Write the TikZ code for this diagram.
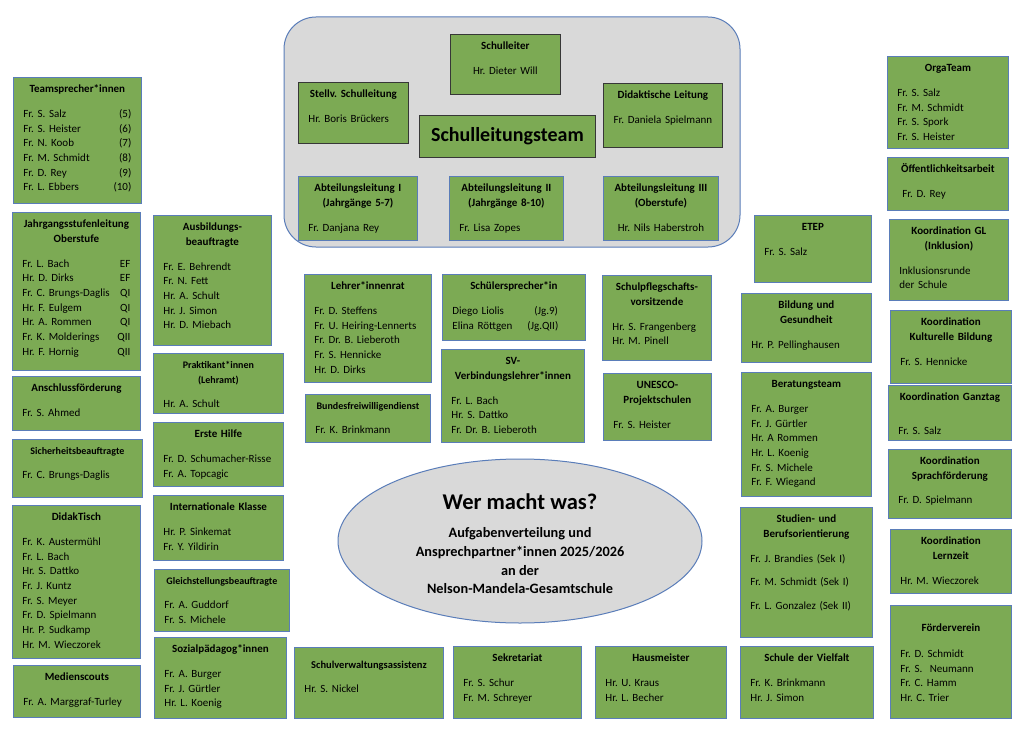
\documentclass[tikz,border=0pt]{standalone}
\usepackage{fontspec}
\setmainfont{Carlito}
\usetikzlibrary{shapes.geometric}
\frenchspacing

\definecolor{boxgreen}{RGB}{124,170,84}
\definecolor{boxblue}{RGB}{90,125,185}
\definecolor{boxdark}{RGB}{55,55,55}
\definecolor{panelgray}{RGB}{217,217,217}

\newcommand\hd[1]{\makebox[\linewidth]{\strut\bfseries #1}}
\newcommand\hds[1]{\makebox[\linewidth]{\strut\fontsize{10}{14}\selectfont\bfseries #1}}
\newcommand\ct[1]{\makebox[\linewidth]{#1}}
% [text options]{style}{name}{x,y}{width}{height}{content}
\newcommand\orgbox[7][]{%
  \pgfmathsetmacro\boxtw{#5-20}%
  \node[#2, minimum width=#5pt, minimum height=#6pt] (#3) at (#4) {};
  \node[boxtext, text width=\boxtw pt, #1] (#3-t) at (#3.north) {#7};
}

\begin{document}
\begin{tikzpicture}[
    x=1pt, y=-1pt,
    line cap=round,
    gbox/.style={draw=boxblue, fill=boxgreen, line width=0.8pt,
      anchor=north west, inner sep=0pt},
    dbox/.style={gbox, draw=boxdark},
    boxtext/.style={anchor=north, inner xsep=10pt, inner ysep=5.3pt,
      align=left, font=\fontsize{11}{14.7}\selectfont}
]
  \path[fill=white] (0,0) rectangle (1024,730);

  % Schulleitungsteam
  \draw[draw=boxblue, fill=panelgray, line width=1pt, rounded corners=32pt]
    (284,17) rectangle (740,247);
  \orgbox{dbox}{sl}{450,34}{110}{60}{\hd{Schulleiter}\\[10pt]\ct{Hr. Dieter Will}}
  \orgbox{dbox}{stv}{298,82}{110}{61}{\hd{Stellv. Schulleitung}\\[10pt]Hr. Boris Brückers}
  \node[dbox, minimum width=176pt, minimum height=42pt,
    font=\fontsize{20}{24}\selectfont\bfseries] (slt) at (419,115) {Schulleitungsteam};
  \orgbox{dbox}{dl}{603,83}{119}{64}{\hd{Didaktische Leitung}\\[10pt]\ct{Fr. Daniela Spielmann}}
  \orgbox{gbox}{al1}{298,176}{119}{64}{\hd{Abteilungsleitung I}\\ \hd{(Jahrgänge 5-7)}\\[10pt]Fr. Danjana Rey}
  \orgbox{gbox}{al2}{449,176}{114}{64}{\hd{Abteilungsleitung II}\\ \hd{(Jahrgänge 8-10)}\\[10pt]Fr. Lisa Zopes}
  \orgbox{gbox}{al3}{603,176}{115}{64}{\hd{Abteilungsleitung III}\\ \hd{(Oberstufe)}\\[10pt]\ct{Hr. Nils Haberstroh}}

  % left columns
  \orgbox{gbox}{ts}{13,77}{128}{126}{\hd{Teamsprecher*innen}\\[10pt]
    Fr. S. Salz\hfill(5)\\ Fr. S. Heister\hfill(6)\\ Fr. N. Koob\hfill(7)\\
    Fr. M. Schmidt\hfill(8)\\ Fr. D. Rey\hfill(9)\\ Fr. L. Ebbers\hfill(10)\hspace*{4pt}}
  \orgbox{gbox}{jgst}{12,212}{128}{158}{\hd{Jahrgangsstufenleitung}\\ \hd{Oberstufe}\\[10pt]
    Fr. L. Bach\hfill EF\\ Hr. D. Dirks\hfill EF\\ Fr. C. Brungs-Daglis\hfill QI\\
    Hr. F. Eulgem\hfill QI\\ Hr. A. Rommen\hfill QI\\ Fr. K. Molderings\hfill QII\\
    Hr. F. Hornig\hfill QII}
  \orgbox{gbox}{ansch}{12,376}{128}{54}{\hd{Anschlussförderung}\\[10pt]Fr. S. Ahmed}
  \orgbox{gbox}{sich}{12,439}{130}{58}{\hds{Sicherheitsbeauftragte}\\[9pt]Fr. C. Brungs-Daglis}
  \orgbox{gbox}{didak}{12,505}{128}{153}{\hd{DidakTisch}\\[10pt]
    Fr. K. Austermühl\\ Fr. L. Bach\\ Hr. S. Dattko\\ Fr. J. Kuntz\\
    Fr. S. Meyer\\ Fr. D. Spielmann\\ Hr. P. Sudkamp\\ Hr. M. Wieczorek}
  \orgbox{gbox}{medien}{13,665}{127}{52}{\hd{Medienscouts}\\[10pt]Fr. A. Marggraf-Turley}

  \orgbox{gbox}{ausb}{153,215}{118}{130}{\hd{Ausbildungs-}\\ \hd{beauftragte}\\[10pt]
    Fr. E. Behrendt\\ Fr. N. Fett\\ Hr. A. Schult\\ Hr. J. Simon\\ Hr. D. Miebach}
  \orgbox{gbox}{prakt}{153,353}{130}{60}{\hds{Praktikant*innen}\\ \hds{(Lehramt)}\\[9pt]Hr. A. Schult}
  \orgbox{gbox}{erste}{153,422}{130}{64}{\hd{Erste Hilfe}\\[10pt]
    Fr. D. Schumacher-Risse\\ Fr. A. Topcagic}
  \orgbox{gbox}{intl}{153,495}{130}{65}{\hd{Internationale Klasse}\\[10pt]
    Hr. P. Sinkemat\\ Fr. Y. Yildirin}
  \orgbox{gbox}{gleich}{154,569}{135}{62}{\hds{Gleichstellungsbeauftragte}\\[9pt]
    Fr. A. Guddorf\\ Fr. S. Michele}
  \orgbox{gbox}{sozial}{154,637}{132}{81}{\hd{Sozialpädagog*innen}\\[10pt]
    Fr. A. Burger\\ Fr. J. Gürtler\\ Hr. L. Koenig}

  % middle
  \orgbox{gbox}{lrat}{304,274}{127}{108}{\hd{Lehrer*innenrat}\\[10pt]
    Fr. D. Steffens\\ Fr. U. Heiring-Lennerts\\ Fr. Dr. B. Lieberoth\\
    Fr. S. Hennicke\\ Hr. D. Dirks}
  \orgbox{gbox}{bfd}{305,394}{125}{48}{\hds{Bundesfreiwilligendienst}\\[9pt]Fr. K. Brinkmann}
  \orgbox{gbox}{schsp}{442,274}{143}{66}{\hd{Schülersprecher*in}\\[10pt]
    \makebox[82pt][l]{Diego Liolis}(Jg.9)\\ \makebox[75pt][l]{Elina Röttgen}(Jg.QII)}
  \orgbox{gbox}{sv}{441,349}{143}{93}{\hd{SV-}\\ \hd{Verbindungslehrer*innen}\\[10pt]
    Fr. L. Bach\\ Hr. S. Dattko\\ Fr. Dr. B. Lieberoth}
  \orgbox{gbox}{spfl}{602,275}{109}{85}{\hd{Schulpflegschafts-}\\ \hd{vorsitzende}\\[10pt]
    Hr. S. Frangenberg\\ Hr. M. Pinell}
  \orgbox{gbox}{unesco}{603,373}{108}{67}{\hd{UNESCO-}\\ \hd{Projektschulen}\\[10pt]Fr. S. Heister}

  \node[ellipse, draw=boxblue, fill=panelgray, line width=1pt,
    minimum width=364pt, minimum height=164pt, inner sep=0pt] (title) at (520,541) {};
  \node[align=center, yshift=-3pt,
    font=\fontsize{14.3}{18.7}\selectfont\bfseries] (title-t) at (title.center)
    {{\fontsize{22.5}{27}\selectfont Wer macht was?}\\[9pt]
     Aufgabenverteilung und\\ Ansprechpartner*innen 2025/2026\\ an der\\
     Nelson-Mandela-Gesamtschule};

  % bottom row
  \orgbox[yshift=-6pt]{gbox}{sva}{294,647}{149}{71}{%
    \hd{\fontsize{10.5}{14}\selectfont Schulverwaltungsassistenz}\\[9pt]Hr. S. Nickel}
  \orgbox{gbox}{sekr}{453,646}{128}{72}{\hd{Sekretariat}\\[10pt]Fr. S. Schur\\ Fr. M. Schreyer}
  \orgbox{gbox}{haus}{595,646}{131}{72}{\hd{Hausmeister}\\[10pt]Hr. U. Kraus\\ Hr. L. Becher}

  % right columns
  \orgbox{gbox}{etep}{754,215}{117}{67}{\hd{ETEP}\\[10pt]Fr. S. Salz}
  \orgbox{gbox}{bug}{741,293}{130}{69}{\hd{Bildung und}\\ \hd{Gesundheit}\\[10pt]Hr. P. Pellinghausen}
  \orgbox{gbox}{berat}{741,372}{130}{124}{\hd{Beratungsteam}\\[10pt]
    Fr. A. Burger\\ Fr. J. Gürtler\\ Hr. A Rommen\\ Hr. L. Koenig\\
    Fr. S. Michele\\ Fr. F. Wiegand}
  \orgbox{gbox}{stbo}{740,507}{132}{130}{\hd{Studien- und}\\ \hd{Berufsorientierung}\\[10pt]
    Fr. J. Brandies (Sek I)\\[9pt] Fr. M. Schmidt (Sek I)\\[9pt] Fr. L. Gonzalez (Sek II)}
  \orgbox{gbox}{sdv}{740,646}{133}{72}{\hd{Schule der Vielfalt}\\[10pt]
    Fr. K. Brinkmann\\ Hr. J. Simon}

  \orgbox{gbox}{orga}{887,56}{121}{92}{\hd{OrgaTeam}\\[10pt]
    Fr. S. Salz\\ Fr. M. Schmidt\\ Fr. S. Spork\\ Fr. S. Heister}
  \orgbox{gbox}{oeff}{887,157}{121}{53}{\hd{Öffentlichkeitsarbeit}\\[10pt]\hspace*{5pt}Fr. D. Rey}
  \orgbox{gbox}{kgl}{889,219}{119}{81}{\hd{Koordination GL}\\ \hd{(Inklusion)}\\[10pt]
    Inklusionsrunde\\ der Schule}
  \orgbox{gbox}{kkb}{890,310}{121}{73}{\hd{Koordination}\\ \hd{Kulturelle Bildung}\\[10pt]
    Fr. S. Hennicke}
  \orgbox{gbox}{kgt}{888,385}{123}{55}{\hd{Koordination Ganztag}\\[19pt]Fr. S. Salz}
  \orgbox{gbox}{ksf}{888,449}{123}{69}{\hd{Koordination}\\ \hd{Sprachförderung}\\[9pt]
    Fr. D. Spielmann}
  \orgbox{gbox}{klz}{890,529}{121}{64}{\hd{Koordination}\\ \hd{Lernzeit}\\[10pt]Hr. M. Wieczorek}
  \orgbox[yshift=-11pt]{gbox}{fv}{890,605}{121}{113}{\hd{Förderverein}\\[11pt]
    Fr. D. Schmidt\\ Fr. S.\ \ Neumann\\ Fr. C. Hamm\\ Hr. C. Trier}
\end{tikzpicture}
\end{document}
